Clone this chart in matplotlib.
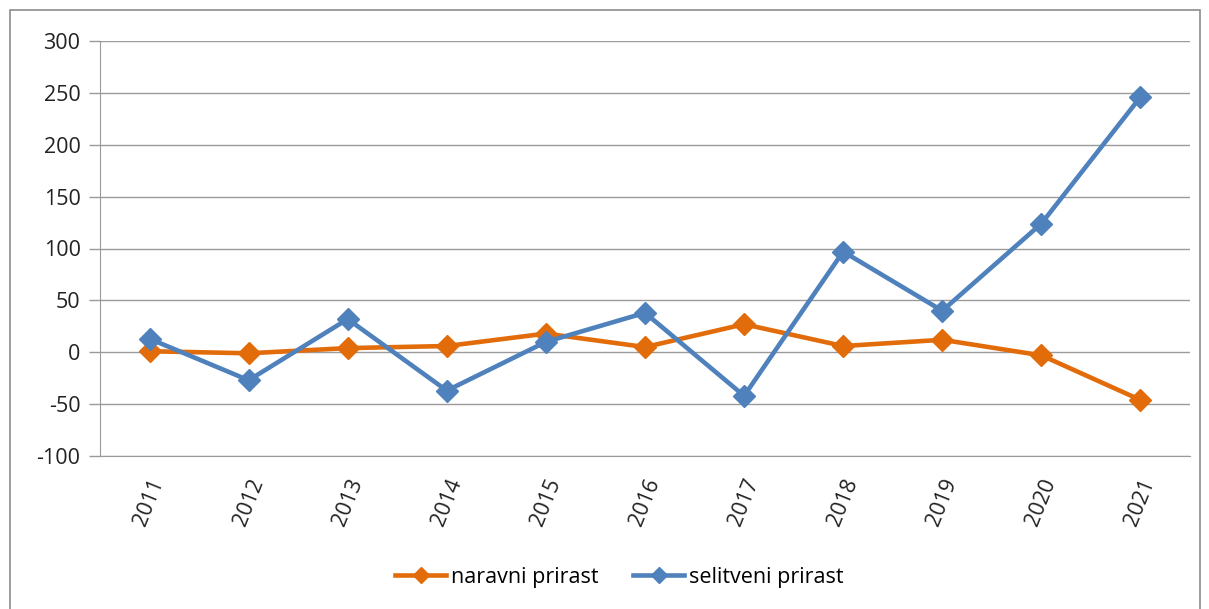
import matplotlib.pyplot as plt
import matplotlib as mpl
from matplotlib.patches import Rectangle

mpl.rcParams['font.family'] = ['Open Sans', 'DejaVu Sans']

years = ['2011', '2012', '2013', '2014', '2015', '2016', '2017', '2018', '2019', '2020', '2021']
naravni = [1, -1, 4, 6, 18, 5, 27, 6, 12, -3, -46]
selitveni = [13, -27, 32, -37, 10, 38, -42, 97, 40, 124, 246]
yticks = [-100, -50, 0, 50, 100, 150, 200, 250, 300]

orange = '#E36C0A'
blue = '#4F81BD'
grid_c = '#9A9A9A'

fig = plt.figure(figsize=(12.09, 6.09), dpi=100)
ax = fig.add_axes([100 / 1209, 1 - 456 / 609, 1090 / 1209, 415 / 609])

# outer chart border like the spreadsheet frame
fig.patches.append(Rectangle((10 / 1209, -0.01), 1190 / 1209, 1 - 10 / 609 + 0.01,
                             transform=fig.transFigure, fill=False,
                             edgecolor='#8C8C8C', linewidth=1.2))

x = list(range(len(years)))
ax.plot(x, naravni, color=orange, linewidth=3.3, marker='D', markersize=11,
        label='naravni prirast')
ax.plot(x, selitveni, color=blue, linewidth=3.3, marker='D', markersize=11,
        label='selitveni prirast')

ax.set_xlim(-0.5, len(years) - 0.5)
ax.set_ylim(-100, 300)
ax.set_yticks(yticks)
ax.set_yticklabels([str(v) for v in yticks], fontsize=15.5, color='#222222')
ax.set_xticks(x)
ax.set_xticklabels(years, rotation=68, fontsize=15.5, color='#222222',
                   ha='center', va='top')
ax.tick_params(axis='x', length=0, pad=14)
ax.tick_params(axis='y', length=8, width=1, color=grid_c, pad=6)

ax.grid(axis='y', color=grid_c, linewidth=1)
ax.set_axisbelow(True)
for side in ['top', 'right']:
    ax.spines[side].set_visible(False)
ax.spines['left'].set_color(grid_c)
ax.spines['bottom'].set_color(grid_c)

ax.legend(loc='center', bbox_to_anchor=(619 / 1209, 1 - 577 / 609),
          bbox_transform=fig.transFigure, ncol=2, frameon=False,
          fontsize=15.5, handlelength=2.4, handletextpad=0.2, columnspacing=1.6,
          markerscale=0.7)

fig.savefig('out.png', dpi=100)
